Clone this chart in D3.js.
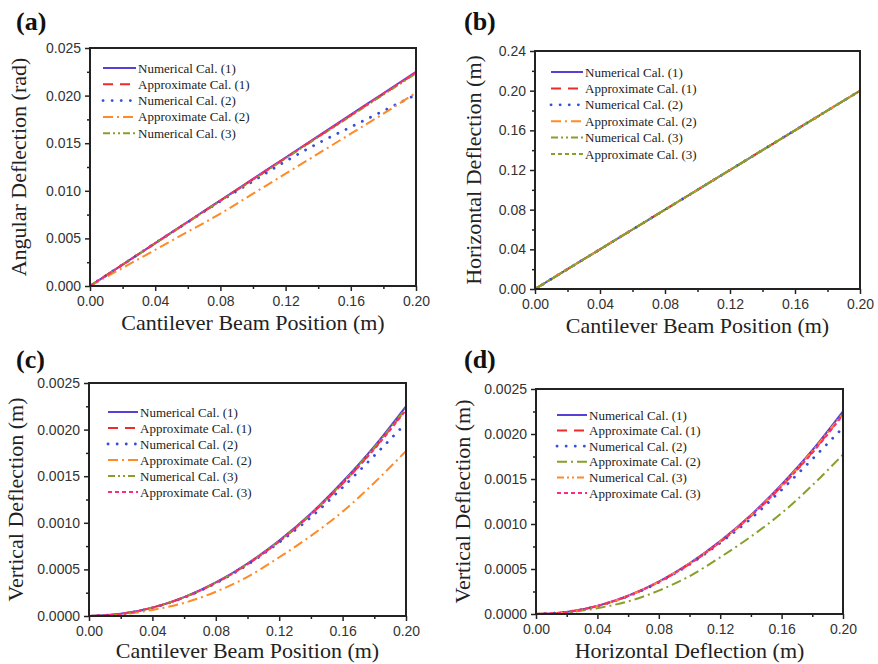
<!DOCTYPE html>
<html>
<head>
<meta charset="utf-8">
<script src="https://cdn.jsdelivr.net/npm/d3@7"></script>
<style>
  html, body { margin: 0; padding: 0; background: #fff; }
  svg { display: block; }
</style>
</head>
<body>
<svg id="fig" width="878" height="664"></svg>
<script>
// Beam positions along the cantilever (m)
const beamPos = [0, 0.02, 0.04, 0.06, 0.08, 0.10, 0.12, 0.14, 0.16, 0.18, 0.20];

// (a) angular deflection (rad)
const angNum1 = [0, 0.00225, 0.0045, 0.00675, 0.0090, 0.01125, 0.0135, 0.01575, 0.0180, 0.02025, 0.0225];
const angApp1 = [0, 0.00224, 0.00448, 0.00672, 0.00896, 0.0112, 0.01344, 0.01568, 0.01792, 0.02016, 0.0224];
const angNum2 = [0, 0.00224, 0.0045, 0.0067, 0.0089, 0.0110, 0.0131, 0.0150, 0.0167, 0.0184, 0.0201];
const angApp2 = [0, 0.0019, 0.0038, 0.0057, 0.0076, 0.0097, 0.0118, 0.0139, 0.0160, 0.0181, 0.0203];
const angNum3 = [0, 0.00224, 0.00447, 0.0067, 0.00894, 0.01117, 0.0134, 0.01563, 0.01786, 0.0201, 0.02233];
const angApp3 = [0, 0.00224, 0.00449, 0.00673, 0.00898, 0.01122, 0.01346, 0.0157, 0.01795, 0.0202, 0.02243];

// (b) horizontal deflection (m), identical for all six calculations
const horizDefl = [0, 0.02, 0.04, 0.06, 0.08, 0.10, 0.12, 0.14, 0.16, 0.18, 0.1999];

// (c)/(d) vertical deflection (m)
const vertNum1 = [0, 0.000023, 0.00009, 0.000203, 0.00036, 0.000563, 0.00081, 0.0011, 0.00144, 0.00182, 0.00225];
const vertApp1 = [0, 0.000022, 0.00009, 0.0002, 0.000356, 0.000556, 0.0008, 0.00109, 0.00142, 0.0018, 0.00222];
const vertNum2 = [0, 0.000022, 0.000088, 0.000198, 0.000352, 0.00055, 0.00079, 0.00106, 0.00138, 0.00172, 0.00207];
const vertApp2 = [0, 0.000016, 0.000065, 0.00014, 0.00026, 0.00042, 0.00063, 0.00086, 0.00112, 0.00143, 0.00177];
const vertNum3 = [0, 0.000022, 0.00009, 0.000202, 0.000358, 0.00056, 0.000805, 0.001095, 0.00143, 0.00181, 0.00223];
const vertApp3 = [0, 0.000022, 0.000089, 0.0002, 0.000355, 0.000555, 0.0008, 0.00109, 0.00142, 0.00179, 0.00221];

// Axis ticks
const xTicks = [0, 0.04, 0.08, 0.12, 0.16, 0.20];
const angTicks = [0, 0.005, 0.010, 0.015, 0.020, 0.025];
const horizTicks = [0, 0.04, 0.08, 0.12, 0.16, 0.20, 0.24];
const vertTicks = [0, 0.0005, 0.0010, 0.0015, 0.0020, 0.0025];

const seriesNames = ["Numerical Cal. (1)", "Approximate Cal. (1)", "Numerical Cal. (2)",
                     "Approximate Cal. (2)", "Numerical Cal. (3)", "Approximate Cal. (3)"];

// line styles
const ST = {
  purple:    { color: "#5a3fd6", dash: null },
  red:       { color: "#ee2b2b", dash: "10,7" },
  blueDot:   { color: "#3450d8", dash: "0.1,9", cap: "round", width: 2.8 },
  orangeDD:  { color: "#ff8a26", dash: "10,4,2,4" },
  oliveDD:   { color: "#86a02a", dash: "10,4,2,4" },
  oliveDDD:  { color: "#86a02a", dash: "7,3,2,3,2,3" },
  orangeDDD: { color: "#ff8a26", dash: "7,3,2,3,2,3" },
  oliveShort:{ color: "#86a02a", dash: "4,3" },
  pinkShort: { color: "#ff2a7a", dash: "4,3" }
};

const svg = d3.select("#fig");
const serif = "'Liberation Serif','Times New Roman',serif";
const sans = "'Liberation Sans',Arial,sans-serif";

function styleStroke(sel, st) {
  sel.attr("stroke", st.color)
    .attr("stroke-width", st.width || 2)
    .attr("stroke-dasharray", st.dash)
    .attr("stroke-linecap", st.cap || "butt");
}

function panel(cfg) {
  const x = d3.scaleLinear().domain([0, 0.2]).range([cfg.x0, cfg.x1]);
  const y = d3.scaleLinear().domain(cfg.yDomain).range([cfg.y1, cfg.y0]);
  const g = svg.append("g");

  // minor ticks halfway between major ones
  const xMinor = xTicks.slice(0, -1).map((t, i) => (t + xTicks[i + 1]) / 2);
  const yMinor = cfg.yTicks.slice(0, -1).map((t, i) => (t + cfg.yTicks[i + 1]) / 2);

  const xAxis = d3.axisBottom(x).tickValues(xTicks).tickFormat(d3.format(".2f")).tickSize(5).tickPadding(5);
  const yAxis = d3.axisLeft(y).tickValues(cfg.yTicks).tickFormat(d3.format(cfg.yFmt)).tickSize(5).tickPadding(4);

  g.append("g").attr("transform", `translate(0,${cfg.y1})`).call(xAxis);
  g.append("g").attr("transform", `translate(${cfg.x0},0)`).call(yAxis);
  g.append("g").attr("transform", `translate(0,${cfg.y1})`)
    .call(d3.axisBottom(x).tickValues(xMinor).tickFormat("").tickSize(3));
  g.append("g").attr("transform", `translate(${cfg.x0},0)`)
    .call(d3.axisLeft(y).tickValues(yMinor).tickFormat("").tickSize(3));

  g.selectAll(".domain").remove();
  g.selectAll(".tick line").attr("stroke", "#222").attr("stroke-width", 1.5);
  g.selectAll(".tick text").attr("font-family", sans).attr("font-size", 14).attr("fill", "#333");

  // clip for curves
  const clipId = "clip" + cfg.id;
  svg.append("clipPath").attr("id", clipId).append("rect")
    .attr("x", cfg.x0).attr("y", cfg.y0 - 2).attr("width", cfg.x1 - cfg.x0 + 2).attr("height", cfg.y1 - cfg.y0 + 2);

  const line = d3.line().curve(d3.curveMonotoneX);
  cfg.series.forEach(s => {
    const pts = s.xs.map((xv, i) => [x(xv), y(s.ys[i])]);
    g.append("path").attr("d", line(pts)).attr("fill", "none")
      .call(styleStroke, s.style).attr("clip-path", `url(#${clipId})`);
  });

  // frame
  g.append("rect").attr("x", cfg.x0).attr("y", cfg.y0)
    .attr("width", cfg.x1 - cfg.x0).attr("height", cfg.y1 - cfg.y0)
    .attr("fill", "none").attr("stroke", "#222").attr("stroke-width", 2);

  // legend
  cfg.legend.rows.forEach((r, i) => {
    const yy = cfg.legend.y + i * cfg.legend.step;
    g.append("line").attr("x1", cfg.legend.x).attr("x2", cfg.legend.x + cfg.legend.len)
      .attr("y1", yy).attr("y2", yy).call(styleStroke, r.style);
    g.append("text").attr("x", cfg.legend.x + cfg.legend.len + 2).attr("y", yy + 4.5)
      .attr("font-family", serif).attr("font-size", 13).attr("fill", "#222").text(r.name);
  });

  // titles
  g.append("text").attr("x", (cfg.x0 + cfg.x1) / 2).attr("y", cfg.y1 + cfg.xTitleOff)
    .attr("text-anchor", "middle").attr("font-family", serif).attr("font-size", 22).attr("fill", "#222")
    .text(cfg.xTitle);
  g.append("text")
    .attr("transform", `translate(${cfg.x0 - cfg.yTitleOff},${(cfg.y0 + cfg.y1) / 2}) rotate(-90)`)
    .attr("text-anchor", "middle").attr("font-family", serif).attr("font-size", 22).attr("fill", "#222")
    .text(cfg.yTitle);
  g.append("text").attr("x", cfg.label[0]).attr("y", cfg.label[1])
    .attr("font-family", serif).attr("font-weight", "bold").attr("font-size", 26).attr("fill", "#111")
    .text(cfg.labelText);
}

// (a)
panel({
  id: "a", x0: 90, x1: 416, y0: 48, y1: 286,
  yDomain: [0, 0.025], yTicks: angTicks, yFmt: ".3f",
  xTitle: "Cantilever Beam Position (m)", yTitle: "Angular Deflection (rad)",
  xTitleOff: 44, yTitleOff: 64, label: [16, 30], labelText: "(a)",
  series: [
    { xs: beamPos, ys: angNum1, style: ST.purple },
    { xs: beamPos, ys: angApp1, style: ST.red },
    { xs: beamPos, ys: angNum2, style: ST.blueDot },
    { xs: beamPos, ys: angApp2, style: ST.orangeDD },
    { xs: beamPos, ys: angNum3, style: ST.oliveDDD },
    { xs: beamPos, ys: angApp3, style: ST.pinkShort }
  ],
  legend: { x: 103, y: 68, step: 16.3, len: 33, rows: [
    { name: seriesNames[0], style: ST.purple },
    { name: seriesNames[1], style: ST.red },
    { name: seriesNames[2], style: ST.blueDot },
    { name: seriesNames[3], style: ST.orangeDD },
    { name: seriesNames[4], style: ST.oliveDDD }
  ]}
});

// (b)
panel({
  id: "b", x0: 535, x1: 860, y0: 51, y1: 289,
  yDomain: [0, 0.24], yTicks: horizTicks, yFmt: ".2f",
  xTitle: "Cantilever Beam Position (m)", yTitle: "Horizontal Deflection (m)",
  xTitleOff: 44, yTitleOff: 54, label: [464, 30], labelText: "(b)",
  series: [
    { xs: beamPos, ys: horizDefl, style: ST.purple },
    { xs: beamPos, ys: horizDefl, style: ST.red },
    { xs: beamPos, ys: horizDefl, style: ST.blueDot },
    { xs: beamPos, ys: horizDefl, style: ST.orangeDD },
    { xs: beamPos, ys: horizDefl, style: ST.oliveDDD },
    { xs: beamPos, ys: horizDefl, style: ST.oliveShort }
  ],
  legend: { x: 551, y: 72, step: 16.4, len: 32, rows: [
    { name: seriesNames[0], style: ST.purple },
    { name: seriesNames[1], style: ST.red },
    { name: seriesNames[2], style: ST.blueDot },
    { name: seriesNames[3], style: ST.orangeDD },
    { name: seriesNames[4], style: ST.oliveDDD },
    { name: seriesNames[5], style: ST.oliveShort }
  ]}
});

// (c)
panel({
  id: "c", x0: 89, x1: 406, y0: 383, y1: 616,
  yDomain: [0, 0.0025], yTicks: vertTicks, yFmt: ".4f",
  xTitle: "Cantilever Beam Position (m)", yTitle: "Vertical Deflection (m)",
  xTitleOff: 42, yTitleOff: 66, label: [16, 368], labelText: "(c)",
  series: [
    { xs: beamPos, ys: vertNum1, style: ST.purple },
    { xs: beamPos, ys: vertApp1, style: ST.red },
    { xs: beamPos, ys: vertNum2, style: ST.blueDot },
    { xs: beamPos, ys: vertApp2, style: ST.orangeDD },
    { xs: beamPos, ys: vertNum3, style: ST.oliveDDD },
    { xs: beamPos, ys: vertApp3, style: ST.pinkShort }
  ],
  legend: { x: 108, y: 412, step: 16, len: 30, rows: [
    { name: seriesNames[0], style: ST.purple },
    { name: seriesNames[1], style: ST.red },
    { name: seriesNames[2], style: ST.blueDot },
    { name: seriesNames[3], style: ST.orangeDD },
    { name: seriesNames[4], style: ST.oliveDDD },
    { name: seriesNames[5], style: ST.pinkShort }
  ]}
});

// (d)
panel({
  id: "d", x0: 536, x1: 843, y0: 389, y1: 614,
  yDomain: [0, 0.0025], yTicks: vertTicks, yFmt: ".4f",
  xTitle: "Horizontal Deflection (m)", yTitle: "Vertical Deflection (m)",
  xTitleOff: 44, yTitleOff: 66, label: [464, 368], labelText: "(d)",
  series: [
    { xs: horizDefl, ys: vertNum1, style: ST.purple },
    { xs: horizDefl, ys: vertApp1, style: ST.red },
    { xs: horizDefl, ys: vertNum2, style: ST.blueDot },
    { xs: horizDefl, ys: vertApp2, style: ST.oliveDD },
    { xs: horizDefl, ys: vertNum3, style: ST.orangeDDD },
    { xs: horizDefl, ys: vertApp3, style: ST.pinkShort }
  ],
  legend: { x: 557, y: 415, step: 15.6, len: 30, rows: [
    { name: seriesNames[0], style: ST.purple },
    { name: seriesNames[1], style: ST.red },
    { name: seriesNames[2], style: ST.blueDot },
    { name: seriesNames[3], style: ST.oliveDD },
    { name: seriesNames[4], style: ST.orangeDDD },
    { name: seriesNames[5], style: ST.pinkShort }
  ]}
});
</script>
</body>
</html>
